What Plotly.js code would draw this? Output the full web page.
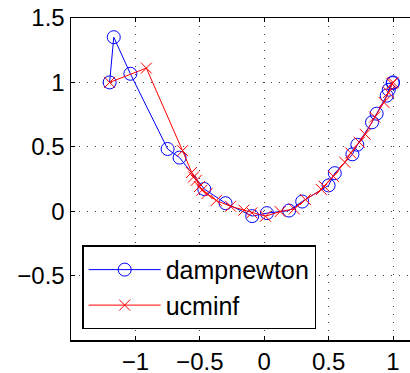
<!DOCTYPE html>
<html>
<head>
<meta charset="utf-8">
<script src="https://cdn.plot.ly/plotly-3.0.1.min.js"></script>
<style>html,body{margin:0;padding:0;background:#fff;}#chart{width:410px;height:373px;}</style>
</head>
<body>
<div id="chart"></div>
<script>
// dampnewton iterates
const dampX = [-1.2, -1.168, -1.039, -0.75, -0.657, -0.465, -0.30, -0.093, 0.021, 0.193, 0.295, 0.50, 0.548, 0.685, 0.723, 0.837, 0.873, 0.951, 0.967, 0.998, 1.0];
const dampY = [1.0, 1.351, 1.067, 0.483, 0.416, 0.172, 0.062, -0.038, -0.015, 0.005, 0.075, 0.20, 0.295, 0.442, 0.516, 0.69, 0.757, 0.897, 0.943, 0.995, 1.0];
// ucminf iterates
const ucX = [-1.2, -0.915, -0.634, -0.565, -0.548, -0.527, -0.503, -0.483, -0.444, -0.372, -0.261, -0.158, -0.096, 0.01, 0.124, 0.233, 0.32, 0.444, 0.465, 0.537, 0.626, 0.672, 0.739, 0.784, 0.858, 0.93, 0.966, 0.992, 1.0];
const ucY = [1.0, 1.111, 0.47, 0.3, 0.266, 0.24, 0.191, 0.163, 0.137, 0.083, 0.038, 0.008, -0.013, -0.039, -0.003, 0.018, 0.09, 0.168, 0.194, 0.271, 0.38, 0.452, 0.535, 0.597, 0.731, 0.845, 0.922, 0.99, 1.0];
const seriesNames = ['dampnewton', 'ucminf'];
const xTicks = [-1, -0.5, 0, 0.5, 1];
const xTickText = ['\u22121', '\u22120.5', '0', '0.5', '1'];
const yTicks = [-0.5, 0, 0.5, 1, 1.5];
const yTickText = ['\u22120.5', '0', '0.5', '1', '1.5'];

const traces = [
  {x: dampX, y: dampY, name: seriesNames[0], type: 'scatter', mode: 'lines+markers',
   line: {color: '#0000ff', width: 1},
   marker: {symbol: 'circle-open', size: 13, color: '#0000ff', line: {width: 1, color: '#0000ff'}}},
  {x: ucX, y: ucY, name: seriesNames[1], type: 'scatter', mode: 'lines+markers',
   line: {color: '#ff0000', width: 1},
   marker: {symbol: 'x-thin-open', size: 11, color: '#ff0000', line: {width: 1, color: '#ff0000'}}}
];

const axCommon = {
  showline: true, linecolor: '#000', linewidth: 1.5,
  ticks: 'inside', ticklen: 4, tickcolor: '#000', tickwidth: 1,
  showgrid: true, gridcolor: '#444', griddash: '1px,7px', gridwidth: 1,
  zeroline: false,
  tickfont: {family: 'Liberation Sans, Arial, sans-serif', size: 24, color: '#000'}
};

const layout = {
  width: 410, height: 373,
  margin: {l: 71, r: 0, t: 18, b: 33, pad: 0},
  paper_bgcolor: '#fff', plot_bgcolor: '#fff',
  showlegend: true,
  xaxis: Object.assign({}, axCommon, {range: [-1.5, 1.132], tickvals: xTicks, ticktext: xTickText, mirror: 'ticks'}),
  yaxis: Object.assign({}, axCommon, {range: [-1.0, 1.5], tickvals: yTicks, ticktext: yTickText, mirror: false}),
  legend: {x: 0.033, y: 0.033, xanchor: 'left', yanchor: 'bottom',
    bgcolor: '#fff', bordercolor: '#000', borderwidth: 1.5,
    font: {family: 'Liberation Sans, Arial, sans-serif', size: 25, color: '#000'},
    itemwidth: 72, tracegroupgap: 0}
};

Plotly.newPlot('chart', traces, layout, {displayModeBar: false, staticPlot: true});
</script>
</body>
</html>
